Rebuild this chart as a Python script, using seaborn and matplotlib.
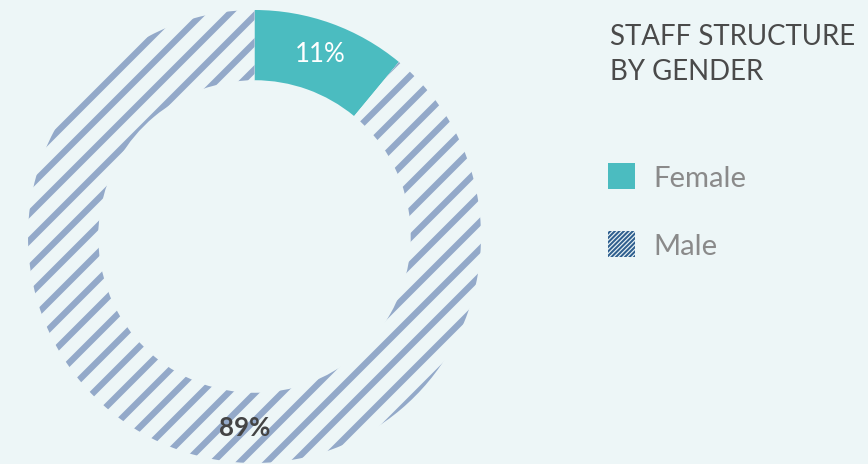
import matplotlib
matplotlib.use("Agg")
import matplotlib.pyplot as plt
import seaborn as sns
import numpy as np
from matplotlib.patches import Rectangle

# ---- data ----
categories = ["Female", "Male"]
shares = [11, 89]
pct_labels = ["11%", "89%"]
title_lines = ["STAFF STRUCTURE", "BY GENDER"]

# ---- style ----
BG = "#edf6f7"
TEAL = "#4bbcc0"
STRIPE = "#93a9c9"
LEG_STRIPE = "#2f5f8f"

sns.set_theme(style="white")
plt.rcParams["font.family"] = ["Lato", "DejaVu Sans"]

DPI = 162
fig = plt.figure(figsize=(868 / DPI, 464 / DPI), dpi=DPI, facecolor=BG)

# donut axes: bounding box of the circle in pixels x 28..481, y(top) 10..463
W, H = 868, 464
ax = fig.add_axes([28 / W, (H - 463) / H, 453 / W, 453 / H])
ax.set_facecolor(BG)

wedges, _ = ax.pie(shares, startangle=90, counterclock=False, radius=1,
                   colors=[TEAL, BG],
                   wedgeprops=dict(width=0.31, linewidth=0))
wedges[0].set_facecolor(TEAL)
wedges[0].set_edgecolor(TEAL)
wedges[0].set_linewidth(0)
wedges[1].set_facecolor(BG)
wedges[1].set_edgecolor(STRIPE)
wedges[1].set_linewidth(0)
wedges[1].set_hatch("//")
if hasattr(wedges[1], "set_hatch_linewidth"):
    wedges[1].set_hatch_linewidth(2.8)
else:
    plt.rcParams["hatch.linewidth"] = 2.8
ax.set_xlim(-1, 1)
ax.set_ylim(-1, 1)
ax.set_aspect("auto")
ax.axis("off")

# percentage labels
th0 = np.deg2rad(90 - shares[0] / sum(shares) * 360 / 2)
ax.text(0.853 * np.cos(th0), 0.853 * np.sin(th0), pct_labels[0],
        ha="center", va="center", color="white", fontsize=11.5)
th1 = np.deg2rad(-93)
ax.text(0.845 * np.cos(th1), 0.845 * np.sin(th1), pct_labels[1],
        ha="center", va="center", color="#444444", fontsize=11.5,
        fontweight="bold")

# title
fig.text(610 / W, 1 - 45 / H, title_lines[0], ha="left", va="baseline",
         color="#4a4a4a", fontsize=12.3)
fig.text(610 / W, 1 - 80 / H, title_lines[1], ha="left", va="baseline",
         color="#4a4a4a", fontsize=12.3)

# legend (manual)
leg_ax = fig.add_axes([0, 0, 1, 1], facecolor="none")
leg_ax.set_xlim(0, W)
leg_ax.set_ylim(H, 0)
leg_ax.axis("off")
leg_ax.add_patch(Rectangle((608, 163), 27, 26, facecolor=TEAL, linewidth=0))
male_patch = Rectangle((608, 231), 27, 26, facecolor=BG, edgecolor=LEG_STRIPE,
                       linewidth=0, hatch="/" * 12)
if hasattr(male_patch, "set_hatch_linewidth"):
    male_patch.set_hatch_linewidth(0.9)
leg_ax.add_patch(male_patch)
leg_ax.text(653, 187, categories[0], ha="left", va="baseline",
            color="#8a8a8a", fontsize=13)
leg_ax.text(653, 255, categories[1], ha="left", va="baseline",
            color="#8a8a8a", fontsize=13)

fig.savefig("out.png", dpi=DPI, facecolor=BG)
